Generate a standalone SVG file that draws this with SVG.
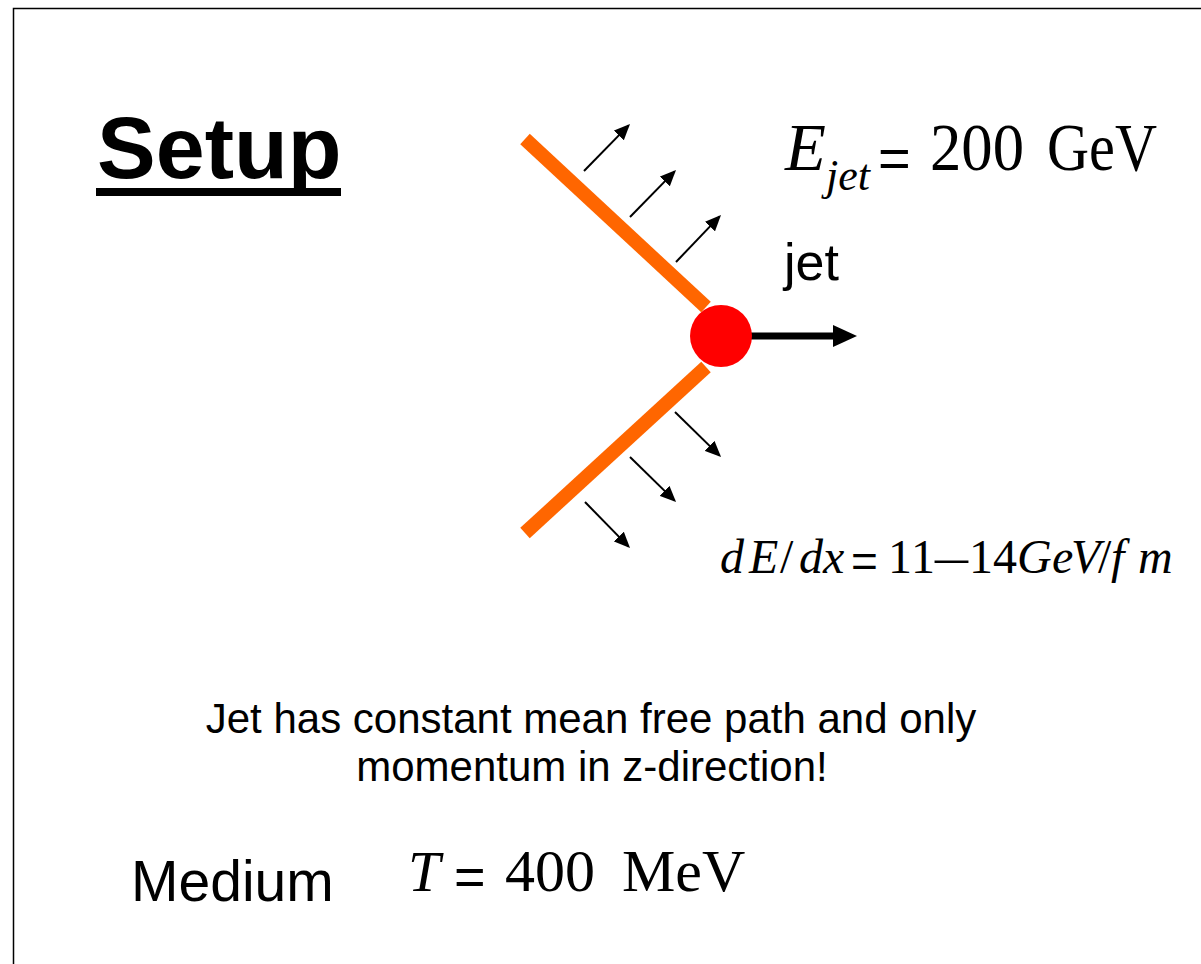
<svg xmlns="http://www.w3.org/2000/svg" width="1201" height="964" viewBox="0 0 1201 964">
  <style>
    .sans { font-family: "Liberation Sans", Arial, sans-serif; fill: #000; }
    .serif { font-family: "Liberation Serif", "Times New Roman", serif; fill: #000; }
    .it { font-style: italic; }
    .beam { stroke: #FF6600; stroke-width: 14; stroke-linecap: butt; fill: none; }
    .small { stroke: #000; stroke-width: 2; fill: none; marker-end: url(#head); }
  </style>
  <defs>
    <marker id="head" viewBox="0 0 16 14" refX="14" refY="7" markerWidth="16" markerHeight="14" markerUnits="userSpaceOnUse" orient="auto">
      <path d="M0,0 L16,7 L0,14 z" fill="#000"/>
    </marker>
  </defs>
  <rect x="0" y="0" width="1201" height="964" fill="#fff"/>
  <rect id="frame" x="13.5" y="8.5" width="1200" height="1000" fill="none" stroke="#000" stroke-width="1.5"/>

  <g id="title">
    <text class="sans" x="97" y="178" font-size="88" font-weight="bold">Setup</text>
    <rect x="96" y="188" width="245" height="8" fill="#000"/>
  </g>

  <g id="connectors">
    <line class="small" x1="584" y1="171" x2="628.6" y2="125.4"/>
    <line class="small" x1="630" y1="217" x2="674.6" y2="171.4"/>
    <line class="small" x1="676" y1="262" x2="719.6" y2="216.4"/>
    <line class="small" x1="675" y1="412" x2="719.6" y2="455.6"/>
    <line class="small" x1="630" y1="457" x2="674.6" y2="500.6"/>
    <line class="small" x1="585" y1="502" x2="628.6" y2="546.6"/>
    <line x1="745" y1="336" x2="835" y2="336" stroke="#000" stroke-width="7"/>
    <polygon points="833,325 857,336 833,347" fill="#000"/>
  </g>

  <g id="beam-upper">
    <line class="beam" x1="525" y1="139" x2="706" y2="307"/>
  </g>
  <g id="beam-lower">
    <line class="beam" x1="706" y1="367" x2="525" y2="533"/>
  </g>
  <g id="jet-particle">
    <circle cx="721" cy="336" r="31" fill="#FF0000"/>
  </g>

  <g id="jet-label">
    <text class="sans" x="784" y="280" font-size="52">jet</text>
  </g>

  <g id="ejet">
    <text class="serif it" x="785" y="170" font-size="67">E</text>
    <text class="serif it" x="826" y="190" font-size="44">jet</text>
    <text class="sans" x="878" y="177" font-size="56">=</text>
    <text class="serif" x="930" y="170" font-size="67" textLength="94" lengthAdjust="spacingAndGlyphs">200</text>
    <text class="serif" x="1047" y="170" font-size="67" textLength="110" lengthAdjust="spacingAndGlyphs">GeV</text>
  </g>

  <g id="dedx">
    <text class="serif" y="573" font-size="48"><tspan class="it" x="720">d</tspan><tspan class="it" x="749">E</tspan><tspan x="780">/</tspan><tspan class="it" x="799">d</tspan><tspan class="it" x="823">x</tspan></text>
    <text class="sans" x="851" y="577" font-size="46">=</text>
    <text class="serif" y="573" font-size="48"><tspan x="888">1</tspan><tspan x="911">1</tspan></text>
    <text class="serif" x="935" y="573" font-size="48" textLength="33" lengthAdjust="spacingAndGlyphs">–</text>
    <text class="serif" y="573" font-size="48"><tspan x="969">1</tspan><tspan x="993">4</tspan><tspan class="it" x="1017">G</tspan><tspan class="it" x="1052">e</tspan><tspan class="it" x="1071">V</tspan><tspan x="1098">/</tspan><tspan class="it" x="1111">f</tspan><tspan class="it" x="1138">m</tspan></text>
  </g>

  <g id="note">
    <text class="sans" x="591" y="733" font-size="42" text-anchor="middle">Jet has constant mean free path and only</text>
    <text class="sans" x="592" y="781" font-size="42" text-anchor="middle">momentum in z-direction!</text>
  </g>

  <g id="medium">
    <text class="sans" x="131" y="901" font-size="57">Medium</text>
    <text class="serif it" x="408" y="891" font-size="58">T</text>
    <text class="sans" x="454" y="895" font-size="54">=</text>
    <text class="serif" x="505" y="891" font-size="60">400</text>
    <text class="serif" x="622" y="891" font-size="60">MeV</text>
  </g>
</svg>
